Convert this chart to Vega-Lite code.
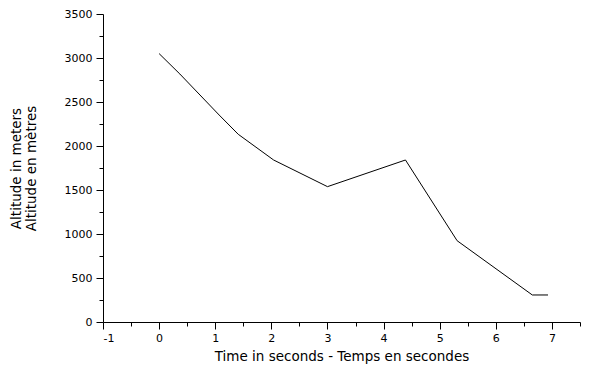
{
  "$schema": "https://vega.github.io/schema/vega-lite/v6.json",
  "width": 477,
  "height": 308,
  "autosize": "none",
  "padding": {"left": 103, "top": 14, "right": 10, "bottom": 54},
  "background": "white",
  "config": {
    "view": {"stroke": null},
    "axis": {
      "labelFont": "DejaVu Sans",
      "titleFont": "DejaVu Sans",
      "labelFontSize": 11,
      "titleFontSize": 13.5,
      "titleFontWeight": "normal",
      "labelColor": "black",
      "titleColor": "black",
      "domainColor": "black",
      "tickColor": "black",
      "domainWidth": 1,
      "tickWidth": 1,
      "grid": false
    }
  },
  "data": {
    "values": [
      {"t": 0, "alt": 3050},
      {"t": 0.37, "alt": 2818},
      {"t": 1.07, "alt": 2352},
      {"t": 1.41, "alt": 2133},
      {"t": 2.04, "alt": 1841},
      {"t": 3.0, "alt": 1538},
      {"t": 4.39, "alt": 1841},
      {"t": 5.31, "alt": 924},
      {"t": 6.65, "alt": 307},
      {"t": 6.93, "alt": 307}
    ]
  },
  "mark": {"type": "line", "color": "black", "strokeWidth": 1},
  "encoding": {
    "x": {
      "field": "t",
      "type": "quantitative",
      "scale": {"domain": [-1, 7.5], "nice": false, "zero": false},
      "axis": {
        "title": "Time in seconds - Temps en secondes",
        "values": [-1, -0.5, 0, 0.5, 1, 1.5, 2, 2.5, 3, 3.5, 4, 4.5, 5, 5.5, 6, 6.5, 7, 7.5],
        "labelExpr": "datum.value % 1 === 0 ? '' + datum.value : ''",
        "tickSize": {"condition": {"test": "datum.value % 1 !== 0", "value": 4}, "value": 7},
        "labelPadding": 3,
        "titlePadding": 6
      }
    },
    "y": {
      "field": "alt",
      "type": "quantitative",
      "scale": {"domain": [0, 3500], "nice": false},
      "axis": {
        "title": ["Altitude in meters", "Altitude en mètres"],
        "titleLineHeight": 15,
        "values": [0, 250, 500, 750, 1000, 1250, 1500, 1750, 2000, 2250, 2500, 2750, 3000, 3250, 3500],
        "labelExpr": "datum.value % 500 === 0 ? '' + datum.value : ''",
        "tickSize": {"condition": {"test": "datum.value % 500 !== 0", "value": 4}, "value": 7},
        "labelPadding": 4,
        "titlePadding": 26
      }
    }
  }
}
